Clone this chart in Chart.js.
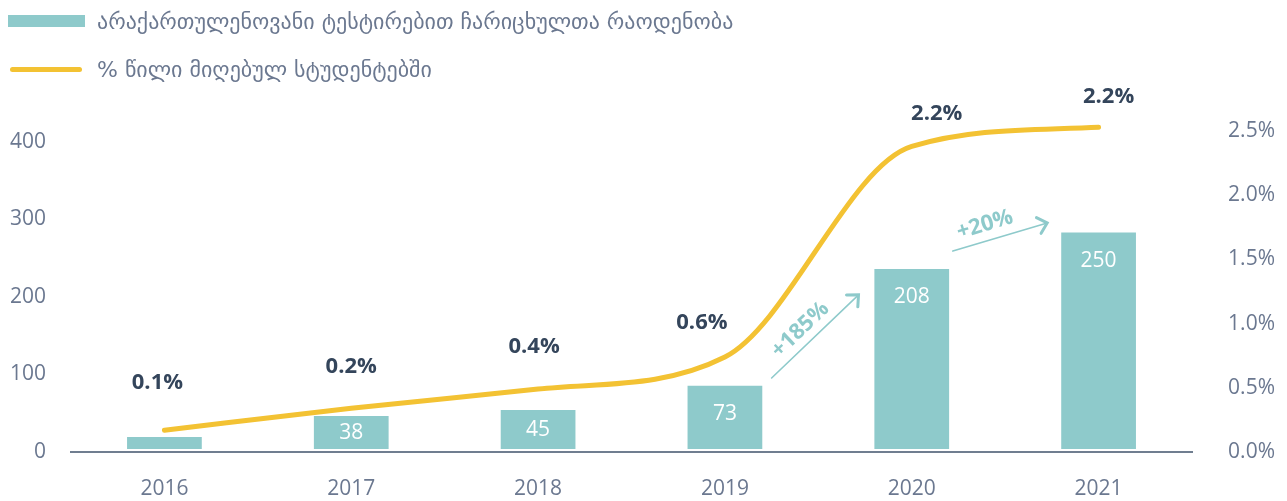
<!DOCTYPE html>
<html>
<head>
<meta charset="utf-8">
<script src="https://cdn.jsdelivr.net/npm/chart.js@4/dist/chart.umd.min.js"></script>
<style>
  html, body { margin: 0; padding: 0; background: #ffffff; }
  #wrap { position: relative; width: 1287px; height: 501px; overflow: hidden; }
  #c { position: absolute; left: 0; top: 0; }
  .leg { position: absolute; left: 0; display: flex; align-items: center;
         font-family: "DejaVu Sans", "Noto Sans", sans-serif; font-size: 22px;
         color: #6b7890; white-space: nowrap; }
  .sw-bar { width: 77px; height: 12px; background: #8ecacb; margin-left: 8px; margin-right: 12px; }
  .sw-line { width: 72px; height: 5px; border-radius: 3px; background: #f3c233; margin-left: 10px; margin-right: 15px; }
</style>
</head>
<body>
<div id="wrap">
  <canvas id="c" width="1287" height="501"></canvas>
  <div class="leg" id="leg1" style="top:7px;height:28px;"><div class="sw-bar"></div><span id="t1"></span></div>
  <div class="leg" id="leg2" style="top:55px;height:28px;"><div class="sw-line"></div><span id="t2"></span></div>
</div>
<script>
// ---- data ----
const years = ['2016', '2017', '2018', '2019', '2020', '2021'];
const enrolled = [14, 38, 45, 73, 208, 250];                 // bars: students enrolled via non-Georgian-language tests
const shareLine = [0.17, 0.34, 0.49, 0.74, 2.38, 2.53];     // line position read against right axis (%)
const shareLabels = [0.1, 0.2, 0.4, 0.6, 2.2, 2.2];         // % labels printed above the line
const leftTicks = [0, 100, 200, 300, 400];
const rightTicks = [0, 0.5, 1.0, 1.5, 2.0, 2.5];
const seriesNames = ['არაქართულენოვანი ტესტირებით ჩარიცხულთა რაოდენობა', '% წილი მიღებულ სტუდენტებში'];

document.getElementById('t1').textContent = seriesNames[0];
document.getElementById('t2').textContent = seriesNames[1];

const TEAL = '#8ecacb';
const YELLOW = '#f3c233';
const TICK = '#6b7890';
const DARK = '#34455b';
const FONT = '"Open Sans", "Noto Sans", sans-serif';

const annot = {
  id: 'annot',
  afterDatasetsDraw(chart, args, opts) {
    const ctx = chart.ctx;
    const x = chart.scales.x;
    const yb = chart.scales.yBar;
    // bar value labels
    const barMeta = chart.getDatasetMeta(1);
    ctx.save();
    ctx.fillStyle = '#ffffff';
    ctx.font = '21px ' + FONT;
    ctx.textAlign = 'center';
    ctx.textBaseline = 'middle';
    barMeta.data.forEach((bar, i) => {
      const h = bar.base - bar.y;
      if (h < 20) return;
      const yy = bar.y + Math.min(h / 2, 28);
      ctx.fillText(String(enrolled[i]), bar.x, yy);
    });
    // percentage labels above the line
    const lineMeta = chart.getDatasetMeta(0);
    ctx.fillStyle = DARK;
    ctx.font = 'bold 22px ' + FONT;
    lineMeta.data.forEach((pt, i) => {
      const s = opts.labelShift[i];
      ctx.fillText(shareLabels[i].toFixed(1) + '%', pt.x + s[0], pt.y + s[1]);
    });
    // growth arrows
    opts.arrows.forEach(a => {
      const x0 = x.getPixelForValue(a.from[0]), y0 = yb.getPixelForValue(a.from[1]);
      const x1 = x.getPixelForValue(a.to[0]), y1 = yb.getPixelForValue(a.to[1]);
      const ang = Math.atan2(y1 - y0, x1 - x0);
      ctx.strokeStyle = TEAL;
      ctx.lineWidth = 1.6;
      ctx.lineCap = 'round';
      ctx.beginPath(); ctx.moveTo(x0, y0); ctx.lineTo(x1, y1); ctx.stroke();
      ctx.lineWidth = 3;
      ctx.lineJoin = 'miter';
      const L = 12, spread = 0.75;
      ctx.beginPath();
      ctx.moveTo(x1 - L * Math.cos(ang - spread), y1 - L * Math.sin(ang - spread));
      ctx.lineTo(x1, y1);
      ctx.lineTo(x1 - L * Math.cos(ang + spread), y1 - L * Math.sin(ang + spread));
      ctx.stroke();
      const pct = Math.round((enrolled[a.toIdx] / enrolled[a.fromIdx] - 1) * 100);
      const mx = (x0 + x1) / 2, my = (y0 + y1) / 2;
      const ux = Math.cos(ang), uy = Math.sin(ang);
      const px = uy, py = -ux; // perpendicular (upper side)
      const tx = mx + ux * a.along + px * a.perp;
      const ty = my + uy * a.along + py * a.perp;
      ctx.save();
      ctx.translate(tx, ty);
      ctx.rotate(ang);
      ctx.fillStyle = TEAL;
      ctx.font = 'bold 22px ' + FONT;
      ctx.textAlign = 'center';
      ctx.textBaseline = 'middle';
      ctx.fillText('+' + pct + '%', 0, 0);
      ctx.restore();
    });
    ctx.restore();
  }
};

new Chart(document.getElementById('c'), {
  data: {
    labels: years,
    datasets: [
      {
        type: 'line',
        label: seriesNames[1],
        data: shareLine,
        yAxisID: 'yPct',
        borderColor: YELLOW,
        borderWidth: 5,
        borderCapStyle: 'round',
        pointRadius: 0,
        cubicInterpolationMode: 'monotone',
        fill: false,
        order: 0
      },
      {
        type: 'bar',
        label: seriesNames[0],
        data: enrolled,
        yAxisID: 'yBar',
        backgroundColor: TEAL,
        borderWidth: 0,
        barPercentage: 0.8,
        categoryPercentage: 0.5,
        order: 1
      }
    ]
  },
  options: {
    responsive: false,
    maintainAspectRatio: false,
    devicePixelRatio: 1,
    animation: false,
    layout: { padding: { top: 110, left: 0, right: 12, bottom: 0 } },
    plugins: {
      legend: { display: false },
      tooltip: { enabled: false },
      annot: {
        labelShift: [[-7, -47], [0, -42], [-4, -42], [-23, -34], [25, -33], [10, -30]],
        arrows: [
          { fromIdx: 3, toIdx: 4, from: [3.25, 82], to: [3.715, 178], along: -6, perp: 15 },
          { fromIdx: 4, toIdx: 5, from: [4.22, 228.6], to: [4.725, 261], along: -11, perp: 16 }
        ]
      }
    },
    scales: {
      x: {
        type: 'category',
        offset: true,
        grid: { display: false, drawTicks: false },
        border: { display: true, color: '#707e90', width: 2 },
        ticks: { color: TICK, font: { family: FONT, size: 21 }, padding: 24, maxRotation: 0 },
        afterFit(s) { s.height = 49; }
      },
      y: {
        type: 'linear',
        position: 'left',
        min: 0,
        max: 441.3,
        grid: { display: false, drawTicks: false },
        border: { display: false },
        afterBuildTicks(s) { s.ticks = leftTicks.map(v => ({ value: v })); },
        ticks: { color: TICK, font: { family: FONT, size: 21 }, padding: 25, includeBounds: false },
        afterFit(s) { s.width = 71; }
      },
      yPct: {
        type: 'linear',
        position: 'right',
        min: 0,
        max: 2.664,
        grid: { display: false, drawTicks: false },
        border: { display: false },
        afterBuildTicks(s) { s.ticks = rightTicks.map(v => ({ value: v })); },
        ticks: {
          color: TICK, font: { family: FONT, size: 21 }, padding: 23, crossAlign: 'far',
          includeBounds: false,
          callback: v => Number(v).toFixed(1) + '%'
        },
        afterFit(s) { s.width = 83; }
      },
      yBar: {
        type: 'linear',
        display: false,
        min: -3.46,
        max: 391.5
      }
    }
  },
  plugins: [annot]
});
</script>
</body>
</html>
